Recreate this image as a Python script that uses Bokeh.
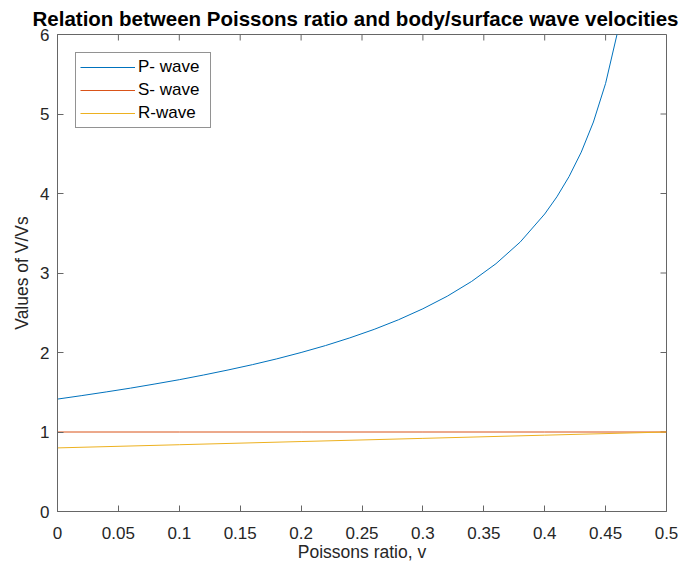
import math
from bokeh.plotting import figure
from bokeh.models import FixedTicker, Range1d, Legend, LegendItem
from bokeh.embed import file_html
from bokeh.resources import INLINE

# ---- data ----
poisson_p = [0.00, 0.02, 0.04, 0.06, 0.08, 0.10, 0.12, 0.14, 0.16, 0.18, 0.20,
             0.22, 0.24, 0.26, 0.28, 0.30, 0.32, 0.34, 0.36, 0.38, 0.40,
             0.41, 0.42, 0.43, 0.44, 0.45, 0.46, 0.47]
p_wave = [1.414, 1.458, 1.504, 1.552, 1.604, 1.658, 1.717, 1.780, 1.847, 1.920, 2.000,
          2.087, 2.184, 2.291, 2.412, 2.550, 2.708, 2.894, 3.117, 3.391, 3.742,
          3.958, 4.213, 4.520, 4.899, 5.385, 6.042, 7.000]

poisson_s = [0.0, 0.1, 0.2, 0.3, 0.4, 0.5]
s_wave = [1.0, 1.0, 1.0, 1.0, 1.0, 1.0]

poisson_r = [0.0, 0.1, 0.2, 0.3, 0.4, 0.5]
r_wave = [0.80, 0.84, 0.88, 0.92, 0.96, 1.00]

x_ticks = [0, 0.05, 0.1, 0.15, 0.2, 0.25, 0.3, 0.35, 0.4, 0.45, 0.5]
x_tick_labels = ["0", "0.05", "0.1", "0.15", "0.2", "0.25", "0.3", "0.35", "0.4", "0.45", "0.5"]
y_ticks = [0, 1, 2, 3, 4, 5, 6]
x_min, x_max = 0, 0.5
y_min, y_max = 0, 6

FONT = "Liberation Sans"
TXT = "#262626"
AX = "#666666"
TICK_LEN = 6

p = figure(width=681, height=574, output_backend="svg", toolbar_location=None,
           x_range=Range1d(x_min, x_max), y_range=Range1d(y_min, y_max),
           min_border_left=57, min_border_right=15, min_border_top=33, min_border_bottom=63)

p.title.text = "Relation between Poissons ratio and body/surface wave velocities"
p.title.align = "left"
p.title.offset = -25
p.title.text_font = FONT
p.title.text_font_style = "bold"
p.title.text_font_size = "20.5px"
p.title.text_color = "#000000"
p.title.standoff = 9

p.xgrid.visible = False
p.ygrid.visible = False
p.outline_line_color = AX
p.outline_line_width = 1
p.background_fill_color = "white"
p.border_fill_color = "white"


def style_axis(ax, ticks):
    ax.ticker = FixedTicker(ticks=ticks)
    ax.major_tick_in = TICK_LEN
    ax.major_tick_out = 0
    ax.minor_tick_in = 0
    ax.minor_tick_out = 0
    ax.major_tick_line_color = AX
    ax.axis_line_color = AX
    ax.major_label_text_font = FONT
    ax.major_label_text_color = TXT
    ax.major_label_text_font_size = "17px"
    ax.axis_label_text_font = FONT
    ax.axis_label_text_font_size = "17.5px"
    ax.axis_label_text_font_style = "normal"
    ax.axis_label_text_color = TXT


xa = p.xaxis[0]
style_axis(xa, x_ticks)
xa.major_label_overrides = {t: l for t, l in zip(x_ticks, x_tick_labels)}
xa.major_label_standoff = 15
xa.axis_label = "Poissons ratio, v"
xa.axis_label_standoff = 0

ya = p.yaxis[0]
style_axis(ya, y_ticks)
ya.major_label_standoff = 8
ya.axis_label = "Values of V/Vs"
ya.axis_label_standoff = 5

# inward ticks on the top and right edges of the box
p.ray(x=x_ticks, y=[y_max] * len(x_ticks), length=TICK_LEN, length_units="screen",
      angle=-math.pi / 2, line_color=AX, line_width=1)
p.ray(x=[x_max] * len(y_ticks), y=y_ticks, length=TICK_LEN, length_units="screen",
      angle=math.pi, line_color=AX, line_width=1)

rp = p.line(poisson_p, p_wave, line_color="#0072BD", line_width=1)
rs = p.line(poisson_s, s_wave, line_color="#D95319", line_width=1)
rr = p.line(poisson_r, r_wave, line_color="#EDB120", line_width=1)

legend = Legend(items=[LegendItem(label="P- wave", renderers=[rp]),
                       LegendItem(label="S- wave", renderers=[rs]),
                       LegendItem(label="R-wave", renderers=[rr])],
                location="top_left")
legend.margin = 18
legend.padding = 4
legend.spacing = 3
legend.glyph_width = 55
legend.glyph_height = 20
legend.label_height = 20
legend.label_width = 68
legend.label_standoff = 3
legend.label_text_font = FONT
legend.label_text_font_size = "17px"
legend.label_text_color = "#000000"
legend.border_line_color = "#262626"
legend.border_line_width = 1
legend.background_fill_alpha = 1
p.add_layout(legend)

open("out.html", "w").write(file_html(p, INLINE))
